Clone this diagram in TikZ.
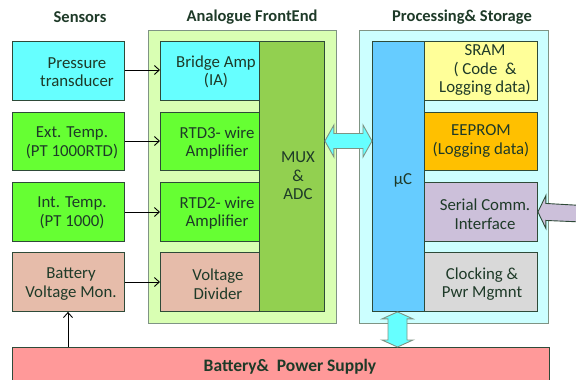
\documentclass[tikz,border=0pt]{standalone}
\usepackage{fontspec}
\setmainfont{Carlito}
\usetikzlibrary{calc,arrows.meta}

\definecolor{edge}{HTML}{2E4A38}
\definecolor{softedge}{HTML}{7F9484}
\definecolor{ink}{HTML}{1E3A28}
\definecolor{cyanbox}{HTML}{66FFFF}
\definecolor{greenbox}{HTML}{66FF33}
\definecolor{tanbox}{HTML}{E6BCAA}
\definecolor{afepanel}{HTML}{D9FFB3}
\definecolor{muxbox}{HTML}{92D050}
\definecolor{procpanel}{HTML}{CCFFFF}
\definecolor{ucbox}{HTML}{66CCFF}
\definecolor{srambox}{HTML}{FFFF99}
\definecolor{eeprombox}{HTML}{FFC000}
\definecolor{serialbox}{HTML}{CCC0DA}
\definecolor{clockbox}{HTML}{D9D9D9}
\definecolor{powerbox}{HTML}{FF9999}
\definecolor{busfill}{HTML}{66FFFF}

\tikzset{
  box/.style={draw=edge, line width=0.9pt, inner sep=0pt, anchor=north west},
  panel/.style={draw=softedge, line width=1pt, inner sep=0pt, anchor=north west},
  lbl/.style={text=ink, align=center, inner sep=0pt,
    font=\fontsize{16.8}{18.5}\selectfont},
  head/.style={text=ink, inner sep=0pt, font=\fontsize{16.5}{18}\selectfont\bfseries},
  wire/.style={draw=black, line width=0.9pt, -{Straight Barb[length=5pt,width=9pt]}},
  bus/.style={draw=softedge, line width=0.9pt, fill=busfill},
}

\begin{document}
\begin{tikzpicture}[x=1pt,y=-1pt]
\useasboundingbox (0,0) rectangle (576,380);

% column headings
\node[head] (hsens) at (80,17) {Sensors};
\node[head] (hafe) at (252,17) {Analogue FrontEnd};
\node[head] (hproc) at (462,17) {Processing\& Storage};

% container panels
\node[panel, fill=afepanel, minimum width=188, minimum height=293] (afe) at (148,30) {};
\node[panel, fill=procpanel, minimum width=189, minimum height=293] (proc) at (359,30) {};

% sensors
\node[box, fill=cyanbox,  minimum width=112, minimum height=59] (press) at (12,41) {};
\node[box, fill=greenbox, minimum width=112, minimum height=58] (ext)   at (12,112) {};
\node[box, fill=greenbox, minimum width=112, minimum height=59] (int)   at (12,182) {};
\node[box, fill=tanbox,   minimum width=112, minimum height=59] (bmon)  at (12,252) {};

% analogue front end
\node[box, fill=cyanbox,  minimum width=99, minimum height=59] (bridge) at (160,41) {};
\node[box, fill=greenbox, minimum width=99, minimum height=58] (rtd3)   at (160,112) {};
\node[box, fill=greenbox, minimum width=99, minimum height=59] (rtd2)   at (160,182) {};
\node[box, fill=tanbox,   minimum width=99, minimum height=59] (vdiv)   at (160,252) {};
\node[box, fill=muxbox,   minimum width=65, minimum height=270] (mux)   at (259,41) {};

% processing and storage
\node[box, fill=ucbox,     minimum width=52,  minimum height=270] (uc)    at (372,41) {};
\node[box, fill=srambox,   minimum width=113, minimum height=59]  (sram)  at (424,41) {};
\node[box, fill=eeprombox, minimum width=113, minimum height=58]  (eeprom) at (424,112) {};
\node[box, fill=serialbox, minimum width=113, minimum height=59]  (serial) at (424,182) {};
\node[box, fill=clockbox,  minimum width=113, minimum height=59]  (clock) at (424,252) {};

% power supply bar (runs past the lower edge)
\node[box, fill=powerbox, minimum width=537, minimum height=45] (power) at (12,347) {};

% labels
\node[lbl] (tpress) at (77,72) {Pressure\\transducer};
\node[lbl] (text) at (72,143) {Ext. Temp.\\(PT 1000RTD)};
\node[lbl] (tint) at (72,213) {Int. Temp.\\(PT 1000)};
\node[lbl] (tbmon) at (71,284) {Battery\\Voltage Mon.};
\node[lbl] (tbridge) at (216,72) {Bridge Amp\\(IA)};
\node[lbl] (trtd3) at (217,143) {RTD3- wire\\Amplifier};
\node[lbl] (trtd2) at (217,213) {RTD2- wire\\Amplifier};
\node[lbl] (tvdiv) at (218,284) {Voltage\\Divider};
\node[lbl] (tmux) at (298,176) {MUX\\\&\\ADC};
\node[lbl] (tuc) at (403,180) {µC};
\node[lbl] (tsram) at (485,70) {SRAM\\( Code \ \&\\Logging data)};
\node[lbl] (teeprom) at (481,141) {EEPROM\\(Logging data)};
\node[lbl] (tserial) at (485,214) {Serial Comm.\\Interface};
\node[lbl] (tclock) at (482,284) {Clocking \&\\Pwr Mgmnt};
\node[head, font=\fontsize{17.5}{20}\selectfont\bfseries] (tpower) at (290,367) {Battery\&\ \ Power Supply};

% signal wires
\draw[wire] (press.east |- 0,70) -- (bridge.west |- 0,70);
\draw[wire] (ext.east |- 0,141) -- (rtd3.west |- 0,141);
\draw[wire] (int.east |- 0,212) -- (rtd2.west |- 0,212);
\draw[wire] (bmon.east |- 0,282) -- (vdiv.west |- 0,282);
\coordinate (ptap) at (power.north -| 68,0);
\draw[wire] (ptap) -- (ptap |- bmon.south);

% bus MUX <-> uC
\coordinate (ba) at (mux.east |- 0,141);
\coordinate (bb) at (uc.west |- 0,141);
\path[bus] (ba) -- ++(9,-16) -- ++(0,8.5) -- ($(bb)+(-9,-7.5)$) -- ++(0,-8.5) -- (bb)
  -- ++(-9,16) -- ++(0,-8.5) -- ($(ba)+(9,7.5)$) -- ++(0,8.5) -- cycle;

% bus uC <-> power supply
\coordinate (va) at (uc.south west -| 397.5,0);
\coordinate (vb) at (power.north -| 397.5,0);
\path[bus] (va) -- ++(15.5,7) -- ++(-6,0) -- ($(vb)+(9.5,-7)$) -- ++(6,0) -- (vb)
  -- ++(-15.5,-7) -- ++(6,0) -- ($(va)+(-9.5,7)$) -- ++(-6,0) -- cycle;

% external link into the serial interface
\coordinate (sx) at (serial.east);
\coordinate (sfar) at (582,0);
\path[draw=edge, line width=0.9pt, fill=serialbox] (sx) -- ++(8,-16.5) -- ++(0,8) -- (sfar |- 0,205.5)
  -- (sfar |- 0,222) -- ($(sx)+(8,8.5)$) -- ++(0,8) -- cycle;
\end{tikzpicture}
\end{document}
